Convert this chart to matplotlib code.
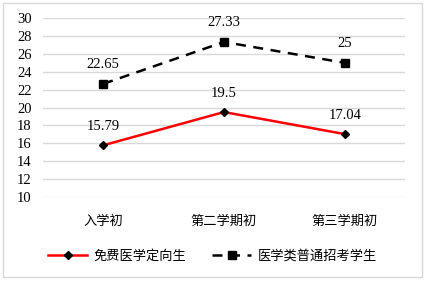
import matplotlib
matplotlib.use("Agg")
import matplotlib.pyplot as plt
from matplotlib.patches import Rectangle

categories = ["入学初", "第二学期初", "第三学期初"]
free_students = [15.79, 19.5, 17.04]
normal_students = [22.65, 27.33, 25]
series_names = ["免费医学定向生", "医学类普通招考学生"]
y_ticks = [10, 12, 14, 16, 18, 20, 22, 24, 26, 28, 30]

serif = ["Liberation Serif", "DejaVu Serif"]
cjk = ["Noto Sans CJK SC", "DejaVu Sans"]

fig = plt.figure(figsize=(4.25, 2.82), dpi=100)
ax = fig.add_axes([0.101, 0.301, 0.852, 0.635])

x = list(range(len(categories)))
ax.plot(x, free_students, color="#ff0000", lw=1.8, marker="D", ms=4.5,
        mfc="black", mec="black", label=series_names[0], zorder=3)
ax.plot(x, normal_students, color="black", lw=1.8, ls=(0, (4, 3)), marker="s", ms=6,
        mfc="black", mec="black", label=series_names[1], zorder=3)

for xi, v in zip(x, free_students):
    ax.annotate(f"{v:g}", (xi, v), xytext=(0, 9), textcoords="offset points",
                ha="center", va="bottom", fontsize=10.5, family=serif)
for xi, v in zip(x, normal_students):
    ax.annotate(f"{v:g}", (xi, v), xytext=(0, 9), textcoords="offset points",
                ha="center", va="bottom", fontsize=10.5, family=serif)

ax.set_xlim(-0.5, 2.5)
ax.set_ylim(10, 30)
ax.set_yticks(y_ticks)
ax.set_yticklabels([str(t) for t in y_ticks], fontsize=10.5, family=serif)
ax.set_xticks(x)
ax.set_xticklabels(categories, fontsize=9.5, family=cjk)
ax.tick_params(axis="both", length=0)
ax.tick_params(axis="x", pad=13)
ax.tick_params(axis="y", pad=8)
ax.grid(axis="y", color="#d9d9d9", lw=1)
ax.set_axisbelow(True)
for s in ax.spines.values():
    s.set_visible(False)

leg = fig.legend(loc="center", bbox_to_anchor=(0.5, 0.092), ncol=2, frameon=False,
                 prop={"family": cjk, "size": 9.5}, handlelength=2.9,
                 columnspacing=2.0, handletextpad=0.5)

fig.patches.append(Rectangle((0.006, 0.018), 0.986, 0.972, transform=fig.transFigure,
                             fill=False, edgecolor="#d9d9d9", lw=1))

fig.savefig("out.png", dpi=100)
